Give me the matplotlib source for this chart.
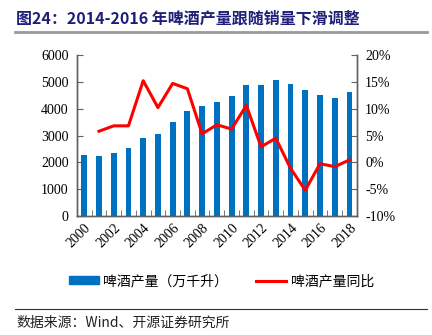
import matplotlib
matplotlib.use("Agg")
import matplotlib.pyplot as plt
from matplotlib.patches import Patch
from matplotlib.lines import Line2D
import numpy as np

years = [str(y) for y in range(2000, 2019)]
output = [2273, 2248, 2360, 2522, 2894, 3043, 3503, 3913, 4087, 4236,
          4472, 4894, 4894, 5056, 4932, 4708, 4497, 4398, 4609]
yoy_years = [str(y) for y in range(2001, 2019)]
yoy = [5.8, 6.8, 6.8, 15.2, 10.2, 14.7, 13.7, 5.3, 7.0, 6.2,
       10.6, 2.9, 4.5, -1.1, -5.2, -0.25, -0.8, 0.45]
left_ticks = [0, 1000, 2000, 3000, 4000, 5000, 6000]
right_ticks = [-10, -5, 0, 5, 10, 15, 20]
label_bar = "啤酒产量（万千升）"
label_line = "啤酒产量同比"
title = "图24：2014-2016 年啤酒产量跟随销量下滑调整"
source = "数据来源：Wind、开源证券研究所"

CJK = ['Noto Sans CJK SC', 'DejaVu Sans']
SERIF = ['Liberation Serif', 'Noto Sans CJK SC']
blue = '#0070C0'
red = '#FF0000'
spine_c = '#606060'

fig = plt.figure(figsize=(4.32, 3.35), dpi=100)
ax = fig.add_axes([0.178, 0.355, 0.648, 0.481])
ax2 = ax.twinx()

x = np.arange(len(years))
ax.bar(x, output, width=0.4, color=blue, zorder=2)
xi = [years.index(y) for y in yoy_years]
ax2.plot(xi, yoy, color=red, lw=2.2, zorder=3)

ax.set_xlim(-0.47, 18.4)
ax.set_ylim(0, 6000)
ax2.set_ylim(-10, 20)
ax.set_yticks(left_ticks)
ax.set_yticklabels([str(v) for v in left_ticks], family=SERIF, fontsize=10)
ax2.set_yticks(right_ticks)
ax2.set_yticklabels([f"{v}%" for v in right_ticks], family=SERIF, fontsize=10)

ax.set_xticks(x[::2])
ax.set_xticklabels(years[::2], rotation=45, ha='right', va='top',
                   rotation_mode='anchor', family=SERIF, fontsize=10)
ax.set_xticks(np.arange(-0.5, 18.6, 1.0), minor=True)
ax.tick_params(axis='x', which='major', length=0, pad=4)
ax.tick_params(axis='x', which='minor', direction='in', length=4, color=spine_c)
ax.tick_params(axis='y', direction='in', length=4, color=spine_c, pad=6)
ax2.tick_params(axis='y', direction='in', length=4, color=spine_c, pad=6)

for a in (ax, ax2):
    a.spines['top'].set_visible(False)
    for s in ('left', 'right', 'bottom'):
        a.spines[s].set_color(spine_c)
        a.spines[s].set_linewidth(1.0)

handles = [Patch(color=blue, label=label_bar),
           Line2D([0], [0], color=red, lw=2.2, label=label_line)]
leg = fig.legend(handles=handles, loc='center', bbox_to_anchor=(0.512, 0.161),
                 ncol=2, frameon=False, prop={'family': CJK, 'size': 10},
                 handlelength=2.2, handleheight=0.55, columnspacing=2.0,
                 handletextpad=0.3)

fig.text(0.037, 0.945, title, family=CJK, fontsize=11.5, fontweight='bold',
         color='#1F1F7A', ha='left', va='center')
fig.add_artist(Line2D([0.035, 0.988], [0.905, 0.905], color='#999999', lw=2.0,
                      transform=fig.transFigure))
fig.add_artist(Line2D([0.035, 0.988], [0.078, 0.078], color='#333333', lw=0.8,
                      transform=fig.transFigure))
fig.text(0.037, 0.036, source, family=CJK, fontsize=10, color='#222222',
         ha='left', va='center')

fig.savefig('out.png', dpi=100)
